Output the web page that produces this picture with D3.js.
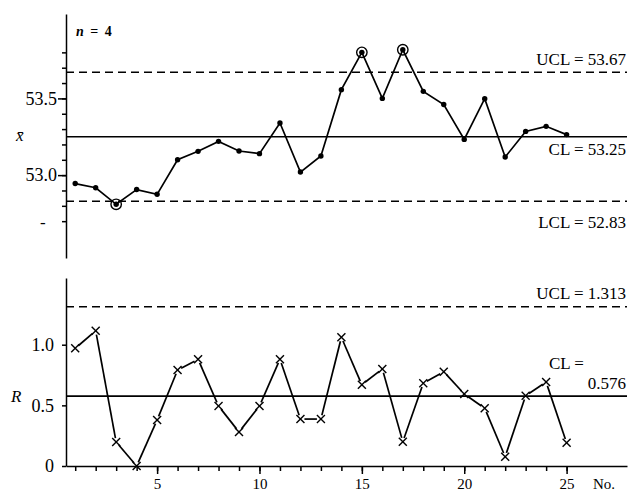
<!DOCTYPE html>
<html>
<head>
<meta charset="utf-8">
<script src="https://cdn.jsdelivr.net/npm/d3@7"></script>
<style>
  body { margin: 0; background: #fff; }
  svg text { font-family: "Liberation Serif", "Times New Roman", serif; }
</style>
</head>
<body>
<svg id="draw-here"></svg>
<script>
// subgroup numbers
const sampleNo = [1,2,3,4,5,6,7,8,9,10,11,12,13,14,15,16,17,18,19,20,21,22,23,24,25];
// x-bar chart, n = 4
const xbarValues = [52.945, 52.918, 52.81, 52.906, 52.875, 53.10, 53.155, 53.22, 53.157, 53.14,
                    53.34, 53.02, 53.125, 53.557, 53.80, 53.50, 53.817, 53.546, 53.46, 53.233,
                    53.498, 53.118, 53.285, 53.318, 53.264];
const xbarLimits = [53.67, 53.25, 52.83];           // UCL, CL, LCL
const xbarLimitLabels = ['UCL = 53.67', 'CL = 53.25', 'LCL = 52.83'];
const xbarTickLabels = [53.0, 53.5];
const xbarMinorTicks = [52.7, 52.8, 52.9, 53.0, 53.1, 53.2, 53.3, 53.4, 53.5, 53.6, 53.7, 53.8];
// R chart
const rangeValues = [0.97, 1.115, 0.198, 0.0, 0.379, 0.791, 0.880, 0.495, 0.280, 0.495,
                     0.880, 0.387, 0.387, 1.061, 0.670, 0.800, 0.200, 0.682, 0.777, 0.594,
                     0.476, 0.077, 0.580, 0.692, 0.192];
const rangeLimits = [1.313, 0.576];                  // UCL, CL
const rangeTickLabels = [0, 0.5, 1.0];
const xTickLabels = [5, 10, 15, 20, 25];

const width = 629, height = 491;
const serif = '"Liberation Serif", "Times New Roman", serif';
const svg = d3.select('#draw-here').attr('width', width).attr('height', height);

const x = d3.scaleLinear().domain([0.55, 27.95]).range([66, 627]);
const yTop = d3.scaleLinear().domain([52.46, 54.05]).range([258, 14]);
const yBot = d3.scaleLinear().domain([0, 1.55]).range([466, 278]);

function styleAxis(g, size) {
  g.attr('font-family', null).attr('font-size', size);
  g.selectAll('path, line').attr('stroke', '#000').attr('stroke-width', 1.5);
  g.selectAll('text').attr('fill', '#000').style('font-family', serif);
}

// ---- top: x-bar chart ----
svg.append('g').attr('transform', 'translate(66,0)')
  .call(d3.axisLeft(yTop).tickValues(xbarMinorTicks).tickSize(4).tickSizeOuter(0).tickFormat(''))
  .call(g => styleAxis(g, 17));
svg.append('g').attr('transform', 'translate(66,0)')
  .call(d3.axisLeft(yTop).tickValues(xbarTickLabels).tickSize(8).tickSizeOuter(0).tickPadding(1)
    .tickFormat(d3.format('.1f')))
  .call(g => styleAxis(g, 18))
  .call(g => g.select('.domain').remove());

svg.selectAll('.xbar-limit')
  .data(xbarLimits)
  .enter().append('line')
  .attr('x1', x.range()[0]).attr('x2', x.range()[1])
  .attr('y1', d => yTop(d)).attr('y2', d => yTop(d))
  .attr('stroke', '#000').attr('stroke-width', 1.6)
  .attr('stroke-dasharray', (d, i) => i === 1 ? null : '8,5');

svg.selectAll('.xbar-label')
  .data(xbarLimitLabels)
  .enter().append('text')
  .attr('x', 626)
  .attr('y', (d, i) => i === 0 ? yTop(xbarLimits[i]) - 7 : yTop(xbarLimits[i]) + 18 + (i === 2 ? 9 : 0))
  .attr('text-anchor', 'end').attr('font-size', 17)
  .text(d => d);

svg.append('path')
  .datum(xbarValues)
  .attr('fill', 'none').attr('stroke', '#000').attr('stroke-width', 1.7)
  .attr('d', d3.line().x((d, i) => x(sampleNo[i])).y(d => yTop(d)));

svg.selectAll('.xbar-dot')
  .data(xbarValues)
  .enter().append('circle')
  .attr('cx', (d, i) => x(sampleNo[i])).attr('cy', d => yTop(d))
  .attr('r', 2.7).attr('fill', '#000');

// points outside the limits get a ring
svg.selectAll('.xbar-out')
  .data(xbarValues.map((v, i) => [sampleNo[i], v]).filter(p => p[1] > xbarLimits[0] || p[1] < xbarLimits[2]))
  .enter().append('circle')
  .attr('cx', d => x(d[0])).attr('cy', d => yTop(d[1]))
  .attr('r', 5.2).attr('fill', 'none').attr('stroke', '#000').attr('stroke-width', 1.4);

svg.append('text').attr('x', 76).attr('y', 36).attr('font-size', 14).attr('font-weight', 'bold')
  .attr('word-spacing', 3)
  .html('<tspan font-style="italic">n</tspan> = 4');
svg.append('text').attr('x', 16).attr('y', 141).attr('font-size', 17).attr('font-style', 'italic')
  .text('x\u0304');
svg.append('text').attr('x', 40).attr('y', 228).attr('font-size', 17).text('-');

// ---- bottom: R chart ----
svg.append('g').attr('transform', 'translate(66,0)')
  .call(d3.axisLeft(yBot).tickValues(rangeTickLabels).tickSize(4).tickSizeOuter(0).tickPadding(8)
    .tickFormat(d => d === 0 ? '0' : d3.format('.1f')(d)))
  .call(g => styleAxis(g, 18));

svg.append('g').attr('transform', 'translate(0,466)')
  .call(d3.axisBottom(x).tickValues(sampleNo).tickSize(5).tickSizeOuter(0).tickFormat(''))
  .call(g => styleAxis(g, 16));
svg.append('g').attr('transform', 'translate(0,466)')
  .call(d3.axisBottom(x).tickValues(xTickLabels).tickSize(8).tickSizeOuter(0).tickPadding(4))
  .call(g => styleAxis(g, 15))
  .call(g => g.select('.domain').remove());
svg.append('text').attr('x', 593).attr('y', 489).attr('font-size', 15).text('No.');

svg.selectAll('.r-limit')
  .data(rangeLimits)
  .enter().append('line')
  .attr('x1', x.range()[0]).attr('x2', x.range()[1])
  .attr('y1', d => yBot(d)).attr('y2', d => yBot(d))
  .attr('stroke', '#000').attr('stroke-width', 1.6)
  .attr('stroke-dasharray', (d, i) => i === 0 ? '8,5' : null);

svg.append('text').attr('x', 626).attr('y', yBot(rangeLimits[0]) - 8)
  .attr('text-anchor', 'end').attr('font-size', 17).text('UCL = 1.313');
svg.append('text').attr('x', 549).attr('y', yBot(rangeLimits[1]) - 27)
  .attr('font-size', 17).text('CL =');
svg.append('text').attr('x', 626).attr('y', yBot(rangeLimits[1]) - 7)
  .attr('text-anchor', 'end').attr('font-size', 17).text('0.576');

// segments stop a little short of the crosses
const trim = 4;
const segs = rangeValues.slice(1).map((v, i) => {
  const x0 = x(sampleNo[i]), y0 = yBot(rangeValues[i]);
  const x1 = x(sampleNo[i + 1]), y1 = yBot(v);
  const len = Math.hypot(x1 - x0, y1 - y0);
  const ux = (x1 - x0) / len, uy = (y1 - y0) / len;
  return [x0 + ux * trim, y0 + uy * trim, x1 - ux * trim, y1 - uy * trim];
});
svg.selectAll('.r-seg')
  .data(segs)
  .enter().append('line')
  .attr('x1', d => d[0]).attr('y1', d => d[1]).attr('x2', d => d[2]).attr('y2', d => d[3])
  .attr('stroke', '#000').attr('stroke-width', 1.7);

const cross = 4;
const marks = svg.selectAll('.r-mark')
  .data(rangeValues)
  .enter().append('g')
  .attr('transform', (d, i) => 'translate(' + x(sampleNo[i]) + ',' + yBot(d) + ')');
marks.append('line').attr('x1', -cross).attr('y1', -cross).attr('x2', cross).attr('y2', cross)
  .attr('stroke', '#000').attr('stroke-width', 1.4);
marks.append('line').attr('x1', -cross).attr('y1', cross).attr('x2', cross).attr('y2', -cross)
  .attr('stroke', '#000').attr('stroke-width', 1.4);

svg.append('text').attr('x', 11).attr('y', 402).attr('font-size', 17).attr('font-style', 'italic')
  .text('R');
</script>
</body>
</html>
